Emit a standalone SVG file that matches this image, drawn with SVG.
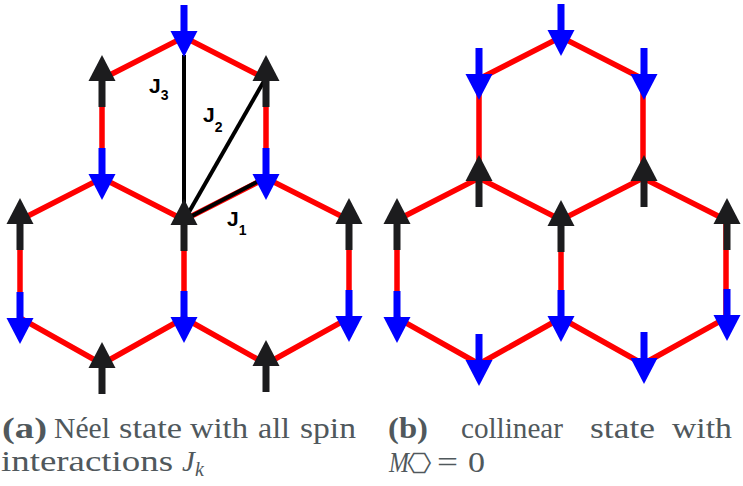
<svg xmlns="http://www.w3.org/2000/svg" xmlns:xlink="http://www.w3.org/1999/xlink" width="743" height="486" viewBox="0 0 743 486">
<style>
.edge{stroke:#ff0000;stroke-width:5.5;stroke-linecap:butt;fill:none}
.jl{stroke:#000;stroke-width:4;fill:none}
</style>
<defs>
<g id="up"><rect x="-3.5" y="24" width="7" height="28" fill="#1c1c1e"/><polygon points="0,0 13.5,26 -13.5,26" fill="#1c1c1e"/></g>
<g id="down"><rect x="-3.5" y="0" width="7" height="28" fill="#0000ff"/><polygon points="-13.5,26 13.5,26 0,52" fill="#0000ff"/></g>
<g id="lattice">
<polyline class="edge" points="102,178 102,79 184,37 266,79 266,178"/>
<polyline class="edge" points="20,220 102,178 184,220 266,178 349,220"/>
<line class="edge" x1="184" y1="220" x2="184" y2="318"/>
<polyline class="edge" points="20,220 20,318 102,364 184,318 266,364 349,318 349,220"/>
</g>
</defs>
<g id="connectors">
<use xlink:href="#lattice" href="#lattice"/>
<use xlink:href="#lattice" href="#lattice" transform="translate(377,0)"/>
<line class="jl" x1="184" y1="220" x2="184" y2="55"/>
<line class="jl" x1="185" y1="219" x2="268" y2="74"/>
<line class="jl" x1="186" y1="219" x2="259" y2="181"/>
</g>
<g id="panel-a-spins">
<use href="#up" x="102" y="55"/>
<use href="#up" x="266" y="55"/>
<use href="#up" x="184" y="199"/>
<use href="#up" x="20" y="198"/>
<use href="#up" x="349" y="198"/>
<use href="#up" x="102" y="342"/>
<use href="#up" x="266" y="340"/>
<use href="#down" x="184" y="5"/>
<use href="#down" x="102" y="148"/>
<use href="#down" x="266" y="148"/>
<use href="#down" x="20" y="292"/>
<use href="#down" x="184" y="291"/>
<use href="#down" x="349" y="290"/>
</g>
<g id="panel-b-spins">
<use href="#down" x="561" y="4"/>
<use href="#down" x="479" y="48"/>
<use href="#down" x="644" y="48"/>
<use href="#down" x="397" y="291"/>
<use href="#down" x="561" y="290"/>
<use href="#down" x="727" y="289"/>
<use href="#down" x="479" y="334"/>
<use href="#down" x="644" y="332"/>
<use href="#up" x="479" y="155"/>
<use href="#up" x="644" y="155"/>
<use href="#up" x="397" y="198"/>
<use href="#up" x="561" y="200"/>
<use href="#up" x="727" y="198"/>
</g>
<g id="labels-J" font-family="Liberation Sans, Arial, sans-serif" font-weight="bold" fill="#000">
<text x="149" y="93" font-size="21">J<tspan font-size="14" dy="7">3</tspan></text>
<text x="203" y="122" font-size="21">J<tspan font-size="14" dy="10">2</tspan></text>
<text x="227" y="226" font-size="21">J<tspan font-size="14" dy="9">1</tspan></text>
</g>
<g id="caption-a" font-family="Liberation Serif, Times New Roman, serif" font-size="29" fill="#50585c">
<text x="2" y="438" font-weight="bold" textLength="45" lengthAdjust="spacingAndGlyphs">(a)</text>
<text x="54" y="438" textLength="56" lengthAdjust="spacingAndGlyphs">Néel</text>
<text x="119" y="438" textLength="63" lengthAdjust="spacingAndGlyphs">state</text>
<text x="190" y="438" textLength="58" lengthAdjust="spacingAndGlyphs">with</text>
<text x="258" y="438" textLength="32" lengthAdjust="spacingAndGlyphs">all</text>
<text x="300" y="438" textLength="56" lengthAdjust="spacingAndGlyphs">spin</text>
<text x="1" y="471" textLength="172" lengthAdjust="spacingAndGlyphs">interactions</text>
<text x="182" y="471" font-style="italic">J<tspan font-size="20" dy="5">k</tspan></text>
</g>
<g id="caption-b" font-family="Liberation Serif, Times New Roman, serif" font-size="29" fill="#50585c">
<text x="388" y="438" font-weight="bold" textLength="40" lengthAdjust="spacingAndGlyphs">(b)</text>
<text x="461" y="438" textLength="102" lengthAdjust="spacingAndGlyphs">collinear</text>
<text x="590" y="438" textLength="65" lengthAdjust="spacingAndGlyphs">state</text>
<text x="672" y="438" textLength="60" lengthAdjust="spacingAndGlyphs">with</text>
<text x="389" y="472" font-style="italic" textLength="20" lengthAdjust="spacingAndGlyphs">M</text>
<text x="0" y="0" font-family="DejaVu Sans, sans-serif" font-size="28" text-anchor="middle" transform="translate(419,463) rotate(90)" dy="9">⬡</text>
<text x="437" y="472" textLength="21" lengthAdjust="spacingAndGlyphs">=</text>
<text x="468" y="472" textLength="17" lengthAdjust="spacingAndGlyphs">0</text>
</g>
</svg>
